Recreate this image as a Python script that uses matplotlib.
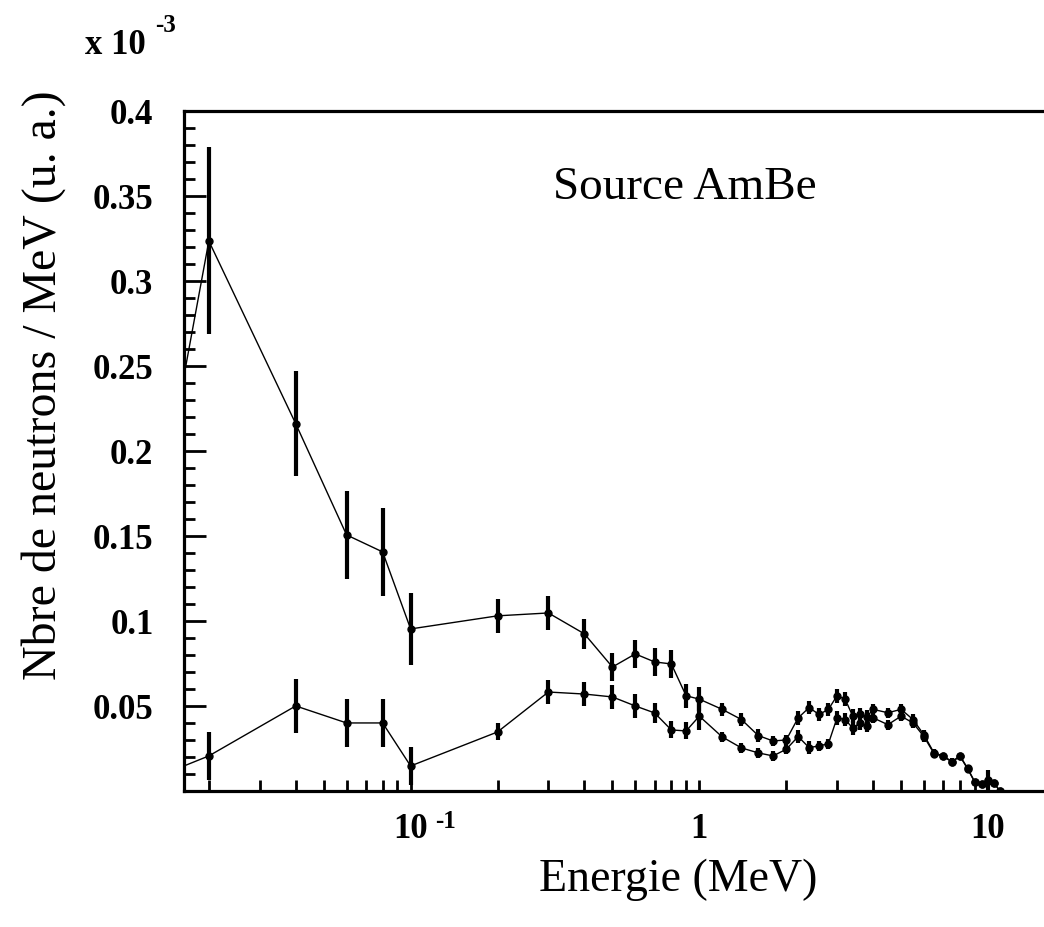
import matplotlib
matplotlib.use("Agg")
import matplotlib.pyplot as plt
from matplotlib.ticker import FixedLocator, FixedFormatter, MultipleLocator, LogLocator, NullFormatter

# === DATA (x 10^-3) ===
energie = [0.01, 0.02, 0.04, 0.06, 0.08, 0.1, 0.2, 0.3, 0.4, 0.5, 0.6, 0.7, 0.8, 0.9, 1.0,
           1.2, 1.4, 1.6, 1.8, 2.0, 2.2, 2.4, 2.6, 2.8, 3.0, 3.2, 3.4, 3.6, 3.8,
           4.0, 4.5, 5.0, 5.5, 6.0, 6.5, 7.0, 7.5, 8.0, 8.5, 9.0, 9.5, 10.0, 10.5, 11.0]

spectre_haut = [0.046, 0.3235, 0.216, 0.1506, 0.1406, 0.0953, 0.103, 0.1047, 0.0924, 0.0729,
                0.0806, 0.0759, 0.0747, 0.056, 0.054, 0.048, 0.042, 0.0326, 0.0294, 0.030,
                0.043, 0.049, 0.045, 0.048, 0.056, 0.054, 0.044, 0.045, 0.0435,
                0.048, 0.046, 0.048, 0.042, 0.033, 0.0224, 0.0206, 0.0173, 0.0206, 0.0133,
                0.0053, 0.0041, 0.0065, 0.0046, 0.0]
err_haut = [0.0, 0.055, 0.031, 0.026, 0.026, 0.021, 0.010, 0.010, 0.009, 0.008,
            0.008, 0.008, 0.008, 0.007, 0.007, 0.004, 0.004, 0.004, 0.003, 0.003,
            0.004, 0.004, 0.004, 0.004, 0.004, 0.004, 0.004, 0.004, 0.004,
            0.003, 0.003, 0.003, 0.003, 0.003, 0.002, 0.002, 0.002, 0.002, 0.002,
            0.002, 0.002, 0.006, 0.002, 0.0]

spectre_bas = [0.0, 0.0206, 0.050, 0.040, 0.040, 0.0147, 0.0347, 0.0582, 0.057, 0.0553,
               0.050, 0.0459, 0.0359, 0.0353, 0.044, 0.0318, 0.0253, 0.0224, 0.0206, 0.0245,
               0.032, 0.0255, 0.0265, 0.0278, 0.043, 0.042, 0.037, 0.040, 0.0385,
               0.043, 0.039, 0.044, 0.040, 0.032, 0.022, 0.0204, 0.017, 0.0204, 0.013,
               0.0052, 0.004, 0.006, 0.0045, 0.0]
err_bas = [0.0, 0.014, 0.016, 0.014, 0.014, 0.011, 0.005, 0.007, 0.007, 0.007,
           0.007, 0.006, 0.005, 0.005, 0.008, 0.003, 0.003, 0.003, 0.003, 0.003,
           0.004, 0.004, 0.003, 0.003, 0.004, 0.004, 0.004, 0.004, 0.004,
           0.003, 0.003, 0.003, 0.003, 0.003, 0.002, 0.002, 0.002, 0.002, 0.002,
           0.002, 0.002, 0.002, 0.002, 0.0]

y_ticks = [0.05, 0.1, 0.15, 0.2, 0.25, 0.3, 0.35, 0.4]
y_labels = ["0.05", "0.1", "0.15", "0.2", "0.25", "0.3", "0.35", "0.4"]
x_ticks = [0.1, 1, 10]
x_labels = ["10", "1", "10"]

SERIF = "Liberation Serif"

fig = plt.figure(figsize=(10.44, 9.28), dpi=100)
ax = fig.add_axes([0.1762, 0.1466, 0.8534, 0.7328])

for y, e in [(spectre_haut, err_haut), (spectre_bas, err_bas)]:
    ax.errorbar(energie, y, yerr=e, fmt="o-", color="black", lw=1.0, ms=5,
                elinewidth=3, capsize=0)

ax.set_xscale("log")
ax.set_xlim(0.0164, 20)
ax.set_ylim(0, 0.4)

# graduations
ax.yaxis.set_major_locator(FixedLocator(y_ticks))
ax.yaxis.set_major_formatter(FixedFormatter(y_labels))
ax.yaxis.set_minor_locator(MultipleLocator(0.01))
ax.xaxis.set_major_locator(FixedLocator(x_ticks))
ax.xaxis.set_major_formatter(FixedFormatter(x_labels))
ax.xaxis.set_minor_locator(LogLocator(base=10, subs=range(2, 10)))
ax.xaxis.set_minor_formatter(NullFormatter())

ax.tick_params(axis="y", which="major", direction="in", length=16, width=2, pad=22)
ax.tick_params(axis="y", which="minor", direction="in", length=8, width=2)
ax.tick_params(axis="x", which="both", direction="in", length=8, width=2, pad=15)
for lab in ax.get_xticklabels() + ax.get_yticklabels():
    lab.set_fontfamily(SERIF)
    lab.set_fontweight("bold")
    lab.set_fontsize(25)

for s in ["left", "bottom", "top"]:
    ax.spines[s].set_linewidth(2.3)
ax.spines["right"].set_visible(False)

# exposant du 10^-1
ax.annotate("-1", xy=(0.1, 0), xycoords=("data", "axes fraction"),
            xytext=(18, -21), textcoords="offset points",
            fontfamily=SERIF, fontweight="bold", fontsize=18, ha="left", va="center")

# facteur d'echelle
fig.text(0.081, 0.951, "x 10", fontfamily=SERIF, fontweight="bold", fontsize=25,
         ha="left", va="center")
fig.text(0.149, 0.972, "-3", fontfamily=SERIF, fontweight="bold", fontsize=18,
         ha="left", va="center")

ax.text(0.414, 0.888, "Source AmBe", transform=ax.transAxes, fontfamily=SERIF,
        fontsize=34, ha="left", va="center")

fig.text(0.65, 0.052, "Energie (MeV)", fontfamily=SERIF, fontsize=33,
         ha="center", va="center")
fig.text(0.042, 0.585, "Nbre de neutrons / MeV (u. a.)", fontfamily=SERIF,
         fontsize=34.5, rotation=90, ha="center", va="center")

fig.savefig("out.png", dpi=100)
